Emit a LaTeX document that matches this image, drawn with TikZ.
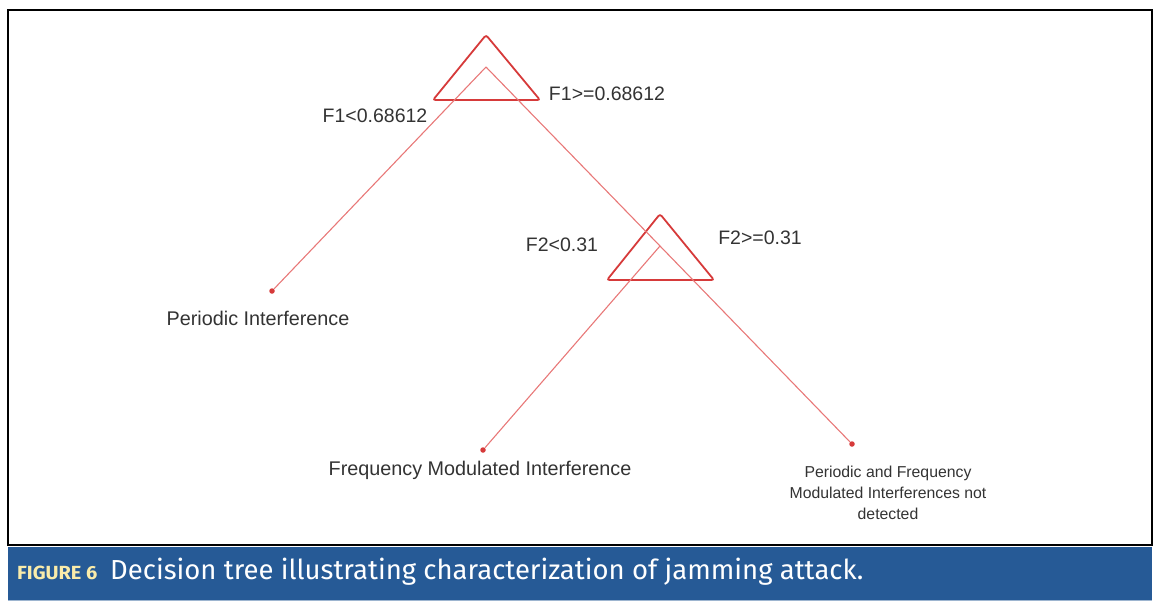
\documentclass[tikz,border=0pt]{standalone}
\usepackage{fontspec}
\setmainfont{Liberation Sans}
\newfontfamily\capfont{Fira Sans}
\usetikzlibrary{positioning}
\definecolor{treered}{RGB}{214,58,58}
\definecolor{edgered}{RGB}{232,120,120}
\definecolor{capblue}{RGB}{38,90,150}
\definecolor{capyellow}{RGB}{250,236,170}
\tikzset{
	split/.style	= {draw=treered, line width=1.8pt, rounded corners=2.5pt},
	branch/.style	= {draw=edgered, line width=1.1pt},
	leaf/.style		= {circle, fill=treered, inner sep=0pt, minimum size=5.5pt},
	cond/.style		= {font=\fontsize{19.5}{22}\selectfont, text=black!80},
	leaftext/.style	= {font=\fontsize{19.8}{22}\selectfont, text=black!80}
}
\begin{document}
\begin{tikzpicture}[x=1pt,y=-1pt]
		\useasboundingbox (0,0) rectangle (1162,608);
		\draw[black, line width=1.2pt] (8,10) rectangle (1152,545);
		\fill[capblue] (8,547) rectangle (1152,600);
		\draw[capblue!45, line width=1pt] (8,600.5) -- (1152,600.5);

		% split nodes
		\coordinate (r1) at (486,67);
		\coordinate (r2) at (660,246);
		\draw[split] (486,35) -- (540,100) -- (433,100) -- cycle;
		\draw[split] (660,214) -- (714,280) -- (607,280) -- cycle;

		% leaves
		\node[leaf] (periodic) at (272,291) {};
		\node[leaf] (fmi) at (483,450) {};
		\node[leaf] (none) at (852,444) {};

		\draw[branch] (r1) -- (periodic);
		\draw[branch] (r1) -- (r2);
		\draw[branch] (r2) -- (none);
		\draw[branch] (r2) -- (fmi);

		% conditions
		\node[cond] (c1l) at (375,116) {F1<0.68612};
		\node[cond] (c1r) at (607,94) {F1>=0.68612};
		\node[cond] (c2l) at (562,245) {F2<0.31};
		\node[cond] (c2r) at (760,238) {F2>=0.31};

		% leaf labels
		\node[leaftext] (tperiodic) at (258,318) {Periodic Interference};
		\node[leaftext] (tfmi) at (480,470) {Frequency Modulated Interference};
		\node[leaftext, font=\fontsize{15.8}{21}\selectfont, align=center] (tnone) at (888,493)
			{Periodic and Frequency\\Modulated Interferences not\\detected};

		% caption
		\node[anchor=west, inner sep=0pt, text=capyellow, font=\capfont\bfseries\fontsize{19}{20}\selectfont] (fig) at (17,573) {\scalebox{1.05}[1]{FIGURE 6}};
		\node[anchor=west, inner sep=0pt, text=white, font=\capfont\fontsize{27.5}{30}\selectfont] (captext) at (110,572) {Decision tree illustrating characterization of jamming attack.};
\end{tikzpicture}
\end{document}
